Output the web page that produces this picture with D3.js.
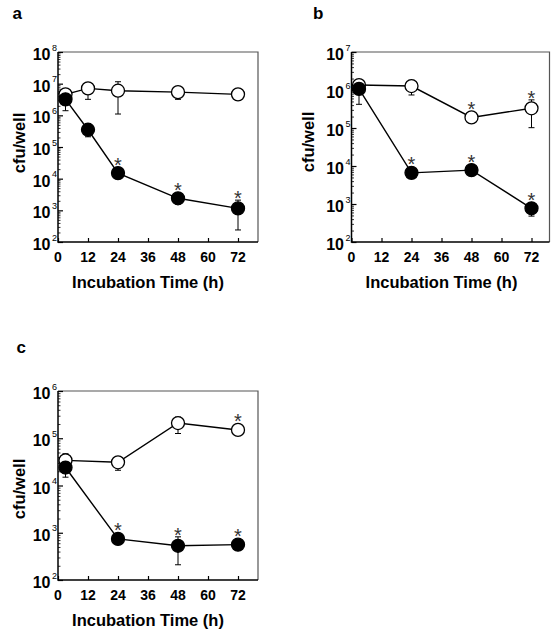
<!DOCTYPE html>
<html>
<head>
<meta charset="utf-8">
<script src="https://cdn.jsdelivr.net/npm/d3@7"></script>
<style>
  html, body { margin: 0; padding: 0; background: #fff; }
  svg { display: block; }
  text { font-family: "Liberation Sans", Arial, Helvetica, sans-serif; }
</style>
</head>
<body>
<svg id="chart" width="558" height="633"></svg>
<script>
// ---------- DATA ----------
const timesA = [3, 12, 24, 48, 72];
const timesBC = [3, 24, 48, 72];
const xTickValues = [0, 12, 24, 36, 48, 60, 72];

// Panel a
const aOpen   = [4.6e6, 7.1e6, 6.0e6, 5.4e6, 4.6e6];
const aOpenLo = [3.9e6, 3.2e6, 1.1e6, 3.2e6, null];
const aOpenHi = [5.6e6, 1.07e7, 1.15e7, 7.4e6, null];
const aOpenStar = [false, false, false, false, false];
const aFilled   = [3.2e6, 3.5e5, 1.5e4, 2.4e3, 1.15e3];
const aFilledLo = [1.4e6, 2.1e5, null, 1.6e3, 240];
const aFilledHi = [4.5e6, 5.4e5, null, 3.3e3, 2.1e3];
const aFilledStar = [false, false, true, true, true];

// Panel b
const bOpen   = [1.35e6, 1.27e6, 1.9e5, 3.3e5];
const bOpenLo = [1.0e6, 7.4e5, null, 1.02e5];
const bOpenHi = [1.75e6, 1.8e6, null, 5.5e5];
const bOpenStar = [false, false, true, true];
const bFilled   = [1.07e6, 6.6e3, 7.8e3, 770];
const bFilledLo = [4.2e5, null, null, 480];
const bFilledHi = [1.5e6, null, null, 950];
const bFilledStar = [false, true, true, true];

// Panel c
const cOpen   = [3.4e4, 3.1e4, 2.1e5, 1.5e5];
const cOpenLo = [2.6e4, 2.1e4, 1.26e5, 1.3e5];
const cOpenHi = [4.7e4, 3.8e4, 2.8e5, 1.8e5];
const cOpenStar = [false, false, false, true];
const cFilled   = [2.4e4, 740, 530, 560];
const cFilledLo = [1.5e4, null, 210, null];
const cFilledHi = [3.0e4, null, 820, null];
const cFilledStar = [false, true, true, true];

const panelLabels = ["a", "b", "c"];
const xTitle = "Incubation Time (h)";
const yTitle = "cfu/well";

// ---------- LAYOUT ----------
const panels = [
  { label: panelLabels[0], left: 58, top: 52, width: 200, height: 190, yExp: [2, 8],
    labelPos: [12.5, 18.5], yTitlePos: [25, 143],
    series: [
      { t: timesA, v: aOpen, lo: aOpenLo, hi: aOpenHi, star: aOpenStar, filled: false },
      { t: timesA, v: aFilled, lo: aFilledLo, hi: aFilledHi, star: aFilledStar, filled: true }
    ] },
  { label: panelLabels[1], left: 351.5, top: 52, width: 198, height: 190, yExp: [2, 7],
    labelPos: [313, 18.5], yTitlePos: [313.5, 142],
    series: [
      { t: timesBC, v: bOpen, lo: bOpenLo, hi: bOpenHi, star: bOpenStar, filled: false },
      { t: timesBC, v: bFilled, lo: bFilledLo, hi: bFilledHi, star: bFilledStar, filled: true }
    ] },
  { label: panelLabels[2], left: 58, top: 391, width: 200, height: 189, yExp: [2, 6],
    labelPos: [16.5, 353], yTitlePos: [24.5, 489],
    series: [
      { t: timesBC, v: cOpen, lo: cOpenLo, hi: cOpenHi, star: cOpenStar, filled: false },
      { t: timesBC, v: cFilled, lo: cFilledLo, hi: cFilledHi, star: cFilledStar, filled: true }
    ] }
];

const svg = d3.select("#chart");
const R = 6.5;

panels.forEach(p => {
  const g = svg.append("g");
  const x = d3.scaleLinear().domain([0, 80 * p.width / 200]).range([p.left, p.left + p.width]);
  const y = d3.scaleLog().domain([Math.pow(10, p.yExp[0]), Math.pow(10, p.yExp[1])])
              .range([p.top + p.height, p.top]);
  const bottom = p.top + p.height;

  // panel letter
  g.append("text").attr("x", p.labelPos[0]).attr("y", p.labelPos[1])
    .attr("font-size", 17).attr("font-weight", "bold").text(p.label);

  // frame: top and right (thin gray)
  g.append("path")
    .attr("d", `M${p.left},${p.top}H${p.left + p.width}V${bottom}`)
    .attr("fill", "none").attr("stroke", "#555").attr("stroke-width", 1.2);

  // x axis ticks (inward)
  const xa = g.append("g").attr("transform", `translate(0,${bottom})`)
    .call(d3.axisBottom(x).tickValues(xTickValues).tickSize(-4).tickPadding(0).tickFormat(""));
  xa.select(".domain").remove();
  xa.selectAll("line").attr("stroke", "#000").attr("stroke-width", 1.2);

  // x tick labels
  g.selectAll(".xl").data(xTickValues).enter().append("text")
    .attr("x", d => x(d)).attr("y", bottom + 20)
    .attr("text-anchor", "middle").attr("font-size", 14).attr("font-weight", "bold")
    .text(d => d);

  // y axis minor + major ticks (inward)
  const minors = [];
  for (let e = p.yExp[0]; e < p.yExp[1]; e++) {
    for (let m = 2; m <= 9; m++) minors.push(m * Math.pow(10, e));
  }
  const ya = g.append("g").attr("transform", `translate(${p.left},0)`)
    .call(d3.axisLeft(y).tickValues(minors).tickSize(-2.5).tickFormat(""));
  ya.select(".domain").remove();
  ya.selectAll("line").attr("stroke", "#000").attr("stroke-width", 0.8);

  const majors = d3.range(p.yExp[0], p.yExp[1] + 1);
  const yb = g.append("g").attr("transform", `translate(${p.left},0)`)
    .call(d3.axisLeft(y).tickValues(majors.map(e => Math.pow(10, e))).tickSize(-5).tickFormat(""));
  yb.select(".domain").remove();
  yb.selectAll("line").attr("stroke", "#000").attr("stroke-width", 1.2);

  // y tick labels 10^n
  majors.forEach(e => {
    const yy = y(Math.pow(10, e));
    const t = g.append("text").attr("x", p.left - 1).attr("y", yy + 8)
      .attr("text-anchor", "end").attr("font-size", 16).attr("font-weight", "bold");
    t.append("tspan").text("10");
    t.append("tspan").attr("dx", 1.5).attr("dy", -9.5).attr("font-size", 9)
      .attr("font-weight", "normal").text(e);
  });

  // axes lines (left and bottom, black)
  g.append("path")
    .attr("d", `M${p.left},${p.top}V${bottom}H${p.left + p.width}`)
    .attr("fill", "none").attr("stroke", "#000").attr("stroke-width", 1.5);

  // axis titles
  g.append("text").attr("x", p.left + 90).attr("y", bottom + 46)
    .attr("text-anchor", "middle").attr("font-size", 16.5).attr("font-weight", "bold")
    .text(xTitle);
  g.append("text")
    .attr("transform", `translate(${p.yTitlePos[0]},${p.yTitlePos[1]}) rotate(-90)`)
    .attr("text-anchor", "middle").attr("font-size", 16.5).attr("font-weight", "bold")
    .text(yTitle);

  // series
  p.series.forEach(s => {
    const pts = s.t.map((t, i) => ({ t, v: s.v[i], lo: s.lo[i], hi: s.hi[i], star: s.star[i] }));
    // error bars
    pts.filter(d => d.lo != null).forEach(d => {
      const cx = x(d.t);
      g.append("path")
        .attr("d", `M${cx},${y(d.hi)}V${y(d.lo)}M${cx - 3},${y(d.hi)}H${cx + 3}M${cx - 3},${y(d.lo)}H${cx + 3}`)
        .attr("fill", "none").attr("stroke", "#000").attr("stroke-width", 1);
    });
    // line
    g.append("path").datum(pts)
      .attr("d", d3.line().x(d => x(d.t)).y(d => y(d.v)))
      .attr("fill", "none").attr("stroke", "#000").attr("stroke-width", 1.4);
  });
  p.series.forEach(s => {
    const pts = s.t.map((t, i) => ({ t, v: s.v[i], lo: s.lo[i], hi: s.hi[i], star: s.star[i] }));
    g.selectAll(null).data(pts).enter().append("circle")
      .attr("cx", d => x(d.t)).attr("cy", d => y(d.v)).attr("r", R)
      .attr("fill", s.filled ? "#000" : "#fff").attr("stroke", "#000").attr("stroke-width", 1.3);
    // asterisks
    pts.filter(d => d.star).forEach(d => {
      let topY = y(d.v) - R;
      if (d.hi != null) topY = Math.min(topY, y(d.hi));
      const cy = topY - 6;
      g.append("text").attr("x", x(d.t)).attr("y", cy + 11)
        .attr("text-anchor", "middle").attr("font-size", 20).attr("fill", "#333")
        .text("*");
    });
  });
});
</script>
</body>
</html>
